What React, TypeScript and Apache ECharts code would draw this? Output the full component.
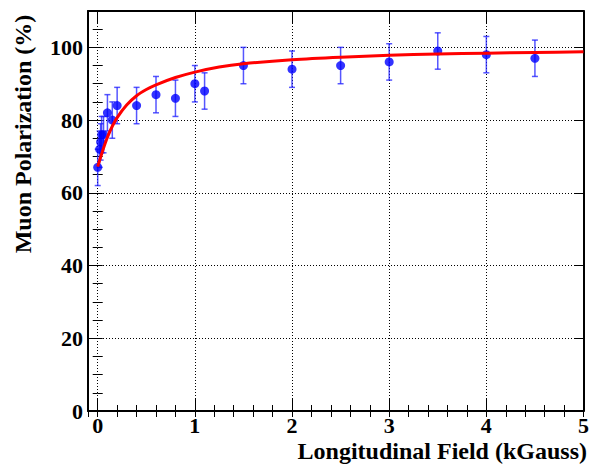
import React, { useEffect, useRef } from 'react';
import * as echarts from 'echarts';

// Measured points (kGauss, %)
const fieldKG = [0, 0.02, 0.03, 0.04, 0.06, 0.1, 0.15, 0.2, 0.4, 0.6, 0.8, 1.0, 1.1, 1.5, 2.0, 2.5, 3.0, 3.5, 4.0, 4.5];
const polarization = [67, 72, 74, 76, 76, 82, 80, 84, 84, 87, 86, 90, 88, 95, 94, 95, 96, 99, 98, 97];
const polErr = [5, 5, 5, 5, 5, 5, 5, 5, 5, 5, 5, 5, 5, 5, 5, 5, 5, 5, 5, 5];

// Fit curve
const fitX = [0, 0.05, 0.1, 0.15, 0.2, 0.3, 0.4, 0.5, 0.6, 0.8, 1.0, 1.25, 1.5, 2.0, 2.5, 3.0, 3.5, 4.0, 4.5, 5.0];
const fitY = [67.2, 71.5, 75.3, 78.3, 80.7, 84.2, 86.7, 88.4, 89.7, 91.7, 93.2, 94.6, 95.5, 96.6, 97.3, 97.8, 98.2, 98.4, 98.6, 98.8];

const X_MIN = -0.1;
const X_MAX = 5;
const Y_MIN = 0;
const Y_MAX = 110;

const FONT = '"Liberation Serif", "Times New Roman", serif';

export default function App() {
  const ref = useRef<HTMLDivElement>(null);

  useEffect(() => {
    if (!ref.current) return;
    const chart = echarts.init(ref.current, null, { renderer: 'svg' });

    const pts = fieldKG.map((x, i) => [x, polarization[i]]);
    const errData = fieldKG.map((x, i) => [x, polarization[i], polErr[i]]);
    const fit = fitX.map((x, i) => [x, fitY[i]]);

    const black = '#000';
    const frameLine = { show: true, onZero: false, lineStyle: { color: black, width: 2 } };
    const noLine = { show: false };
    const labelStyle = { fontFamily: FONT, fontWeight: 'bold' as const, fontSize: 22, color: black };

    const xBase = { type: 'value' as const, min: X_MIN, max: X_MAX, gridIndex: 0 };
    const yBase = { type: 'value' as const, min: Y_MIN, max: Y_MAX, gridIndex: 0 };

    const option: any = {
      animation: false,
      backgroundColor: '#fff',
      grid: { left: 88, right: 4, top: 11, bottom: 55, containLabel: false },
      xAxis: [
        {
          ...xBase,
          position: 'bottom',
          splitNumber: 5,
          axisLine: frameLine,
          axisTick: { show: true, inside: true, length: 12, lineStyle: { color: black, width: 1 } },
          axisLabel: {
            ...labelStyle,
            margin: 3,
            formatter: (v: number) => (Math.abs(v - Math.round(v)) < 1e-6 ? String(Math.round(v)) : ''),
          },
          splitLine: { show: true, lineStyle: { color: black, width: 1, type: [1, 2] } },
        },
        {
          ...xBase,
          position: 'bottom',
          splitNumber: 25,
          axisLine: noLine,
          axisTick: { show: true, inside: true, length: 6, lineStyle: { color: black, width: 1 } },
          axisLabel: { show: false },
          splitLine: { show: false },
        },
        {
          ...xBase,
          position: 'top',
          splitNumber: 5,
          axisLine: frameLine,
          axisTick: { show: true, inside: true, length: 12, lineStyle: { color: black, width: 1 } },
          axisLabel: { show: false },
          splitLine: { show: false },
        },
        {
          ...xBase,
          position: 'top',
          splitNumber: 25,
          axisLine: noLine,
          axisTick: { show: true, inside: true, length: 6, lineStyle: { color: black, width: 1 } },
          axisLabel: { show: false },
          splitLine: { show: false },
        },
      ],
      yAxis: [
        {
          ...yBase,
          position: 'left',
          interval: 20,
          axisLine: frameLine,
          axisTick: { show: true, inside: true, length: 9, lineStyle: { color: black, width: 1 } },
          axisLabel: {
            ...labelStyle,
            margin: 5,
            formatter: (v: number) => (v > 105 ? '' : String(v)),
          },
          splitLine: { show: true, lineStyle: { color: black, width: 1, type: [1, 2] } },
        },
        {
          ...yBase,
          position: 'left',
          interval: 5,
          axisLine: noLine,
          axisTick: { show: true, inside: true, length: 5, lineStyle: { color: black, width: 1 } },
          axisLabel: { show: false },
          splitLine: { show: false },
        },
        {
          ...yBase,
          position: 'right',
          interval: 20,
          axisLine: frameLine,
          axisTick: { show: true, inside: true, length: 9, lineStyle: { color: black, width: 1 } },
          axisLabel: { show: false },
          splitLine: { show: false },
        },
        {
          ...yBase,
          position: 'right',
          interval: 5,
          axisLine: noLine,
          axisTick: { show: true, inside: true, length: 5, lineStyle: { color: black, width: 1 } },
          axisLabel: { show: false },
          splitLine: { show: false },
        },
      ],
      graphic: [
        {
          type: 'text',
          x: 23,
          y: 134,
          rotation: Math.PI / 2,
          style: {
            text: 'Muon Polarization (%)',
            fontFamily: FONT,
            fontWeight: 'bold',
            fontSize: 24,
            fill: black,
            textAlign: 'center',
            textVerticalAlign: 'middle',
          },
        },
        {
          type: 'text',
          x: 587,
          y: 451,
          style: {
            text: 'Longitudinal Field (kGauss)',
            fontFamily: FONT,
            fontWeight: 'bold',
            fontSize: 24,
            fill: black,
            textAlign: 'right',
            textVerticalAlign: 'middle',
          },
        },
      ],
      series: [
        {
          type: 'custom',
          name: 'errors',
          xAxisIndex: 0,
          yAxisIndex: 0,
          z: 2,
          encode: { x: 0, y: 1 },
          data: errData,
          renderItem: (params: any, api: any) => {
            const x = api.value(0);
            const y = api.value(1);
            const e = api.value(2);
            const top = api.coord([x, y + e]);
            const bot = api.coord([x, y - e]);
            const cap = 3;
            const st = { stroke: 'rgba(30,30,255,0.75)', lineWidth: 1.5 };
            return {
              type: 'group',
              children: [
                { type: 'line', shape: { x1: top[0], y1: top[1], x2: bot[0], y2: bot[1] }, style: st },
                { type: 'line', shape: { x1: top[0] - cap, y1: top[1], x2: top[0] + cap, y2: top[1] }, style: st },
                { type: 'line', shape: { x1: bot[0] - cap, y1: bot[1], x2: bot[0] + cap, y2: bot[1] }, style: st },
              ],
            };
          },
        },
        {
          type: 'scatter',
          name: 'data',
          xAxisIndex: 0,
          yAxisIndex: 0,
          z: 3,
          symbol: 'circle',
          symbolSize: 9,
          itemStyle: { color: '#0000ff' },
          data: pts,
        },
        {
          type: 'line',
          name: 'fit',
          xAxisIndex: 0,
          yAxisIndex: 0,
          z: 4,
          smooth: 0.3,
          showSymbol: false,
          symbol: 'none',
          lineStyle: { color: '#ff0000', width: 3 },
          data: fit,
        },
      ],
    };

    chart.setOption(option);
    return () => chart.dispose();
  }, []);

  return (
    <div
      ref={ref}
      style={{ position: 'fixed', left: 0, top: 0, width: 592, height: 466, background: '#fff' }}
    />
  );
}
